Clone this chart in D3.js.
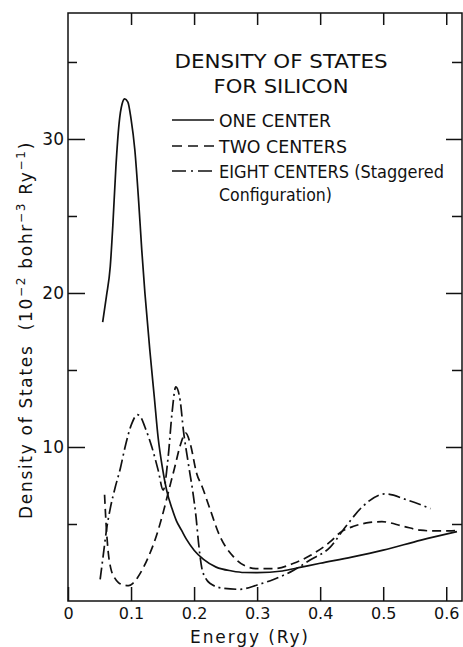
<!DOCTYPE html>
<html><head><meta charset="utf-8">
<script src="https://cdn.jsdelivr.net/npm/d3@7/dist/d3.min.js"></script>
<style>
html,body{margin:0;padding:0;background:#fff;}
svg{display:block;}
text{font-family:"DejaVu Sans",sans-serif;fill:#111;}
</style></head>
<body>
<script>
// ---- data (Energy in Ry, DOS in 10^-2 bohr^-3 Ry^-1) ----
const oneCenter = [[0.055,18.1],[0.061,19.8],[0.067,21.7],[0.071,24.3],[0.076,28.2],[0.081,31.0],[0.086,32.3],[0.090,32.6],[0.095,32.4],[0.100,31.3],[0.106,29.3],[0.112,26.0],[0.117,22.8],[0.122,20.0],[0.130,16.2],[0.137,13.2],[0.143,10.6],[0.150,8.6],[0.157,7.1],[0.165,6.0],[0.172,5.2],[0.180,4.6],[0.188,4.0],[0.200,3.3],[0.215,2.7],[0.235,2.2],[0.260,1.95],[0.280,1.85],[0.300,1.84],[0.340,1.95],[0.370,2.2],[0.400,2.45],[0.450,2.85],[0.500,3.3],[0.560,3.95],[0.617,4.5]];
const twoCenters = [[0.058,6.9],[0.061,4.6],[0.064,3.1],[0.068,2.1],[0.074,1.5],[0.080,1.2],[0.088,1.05],[0.096,1.0],[0.103,1.15],[0.110,1.5],[0.120,2.2],[0.130,3.1],[0.140,4.2],[0.150,5.6],[0.160,7.2],[0.170,8.8],[0.178,10.1],[0.187,10.9],[0.194,10.2],[0.204,8.3],[0.213,7.4],[0.225,6.0],[0.241,4.2],[0.262,2.9],[0.280,2.3],[0.300,2.1],[0.326,2.1],[0.358,2.45],[0.384,2.95],[0.416,3.85],[0.432,4.45],[0.453,4.85],[0.479,5.1],[0.498,5.15],[0.532,4.85],[0.559,4.6],[0.580,4.55],[0.604,4.55],[0.622,4.6]];
const eightCenters = [[0.051,1.4],[0.056,3.0],[0.061,4.6],[0.067,6.0],[0.075,7.4],[0.083,8.6],[0.090,9.9],[0.101,11.5],[0.110,12.1],[0.116,11.9],[0.122,11.3],[0.133,10.0],[0.143,8.5],[0.151,7.2],[0.159,9.4],[0.165,12.2],[0.171,13.9],[0.178,13.0],[0.183,11.1],[0.191,8.9],[0.199,6.8],[0.203,5.5],[0.207,3.8],[0.212,2.2],[0.218,1.5],[0.225,1.15],[0.247,0.82],[0.273,0.76],[0.300,1.04],[0.326,1.4],[0.358,2.0],[0.384,2.66],[0.416,3.5],[0.440,4.8],[0.469,6.2],[0.503,6.95],[0.538,6.56],[0.575,6.0]];
const xTicks = [0,0.1,0.2,0.3,0.4,0.5,0.6];
const xTickLabels = ["0","0.1","0.2","0.3","0.4","0.5","0.6"];
const yMajor = [10,20,30];
const yMinor = [5,15,25,35];
const titleLines = ["DENSITY OF STATES","FOR SILICON"];
const seriesNames = ["ONE CENTER","TWO CENTERS","EIGHT CENTERS (Staggered"];
const seriesNote = "Configuration)";

// ---- layout ----
const W = 463, H = 647;
const L = 68, R = 462, T = 13, B = 601;
const x = d3.scaleLinear().domain([0, 0.625]).range([L, R]);
const y = d3.scaleLinear().domain([0, 38.18]).range([B, T]);

const svg = d3.select("body").append("svg").attr("width", W).attr("height", H);

// frame
svg.append("rect").attr("x", L).attr("y", T).attr("width", R - L).attr("height", B - T)
  .attr("fill", "none").attr("stroke", "#111").attr("stroke-width", 1.5);

function styleAxis(g){
  g.select(".domain").remove();
  g.selectAll(".tick line").attr("stroke", "#111").attr("stroke-width", 1.5);
  g.selectAll(".tick text").style("font-family", '"DejaVu Sans",sans-serif').attr("fill", "#111");
}

// bottom
svg.append("g").attr("transform", `translate(0,${B})`)
  .call(d3.axisBottom(x).tickValues(xTicks).tickSize(-14).tickPadding(7)
        .tickFormat((d,i) => xTickLabels[i]))
  .call(styleAxis).selectAll("text").style("font-size", "16px");
// top
svg.append("g").attr("transform", `translate(0,${T})`)
  .call(d3.axisTop(x).tickValues(xTicks.slice(1)).tickSize(-12).tickFormat(""))
  .call(styleAxis);
// left
svg.append("g").attr("transform", `translate(${L},0)`)
  .call(d3.axisLeft(y).tickValues(yMajor).tickSize(-17).tickPadding(4).tickFormat(d3.format("d")))
  .call(styleAxis).selectAll("text").style("font-size", "17px");
svg.append("g").attr("transform", `translate(${L},0)`)
  .call(d3.axisLeft(y).tickValues(yMinor).tickSize(-9).tickFormat(""))
  .call(styleAxis);
// right
svg.append("g").attr("transform", `translate(${R},0)`)
  .call(d3.axisRight(y).tickValues(yMajor).tickSize(-16).tickFormat(""))
  .call(styleAxis);
svg.append("g").attr("transform", `translate(${R},0)`)
  .call(d3.axisRight(y).tickValues(yMinor).tickSize(-10).tickFormat(""))
  .call(styleAxis);

// axis titles
svg.append("text").attr("x", 249).attr("y", 643).attr("text-anchor", "middle")
  .style("font-size", "17px").attr("textLength", 118).attr("lengthAdjust", "spacing")
  .text("Energy (Ry)");

const yl = svg.append("text").attr("transform", "translate(32,330) rotate(-90)")
  .attr("text-anchor", "middle").style("font-size", "17px").style("letter-spacing", "1.7px")
  .style("white-space", "pre");
yl.append("tspan").text("Density of States  (10");
yl.append("tspan").attr("dy", -7).style("font-size", "12px").text("−2");
yl.append("tspan").attr("dy", 7).text(" bohr");
yl.append("tspan").attr("dy", -7).style("font-size", "12px").text("−3");
yl.append("tspan").attr("dy", 7).text(" Ry");
yl.append("tspan").attr("dy", -7).style("font-size", "12px").text("−1");
yl.append("tspan").attr("dy", 7).text(")");

// curves
const line = d3.line().x(d => x(d[0])).y(d => y(d[1])).curve(d3.curveMonotoneX);
const styles = [null, "9,5", "12,4,2,4"];
[oneCenter, twoCenters, eightCenters].forEach((s, i) => {
  svg.append("path").datum(s).attr("d", line).attr("fill", "none")
    .attr("stroke", "#111").attr("stroke-width", 1.7)
    .attr("stroke-dasharray", styles[i]);
});

// legend
svg.append("text").attr("x", 281).attr("y", 68).attr("text-anchor", "middle")
  .style("font-size", "20px").attr("textLength", 213).attr("lengthAdjust", "spacingAndGlyphs")
  .text(titleLines[0]);
svg.append("text").attr("x", 281).attr("y", 93).attr("text-anchor", "middle")
  .style("font-size", "20px").attr("textLength", 135).attr("lengthAdjust", "spacingAndGlyphs")
  .text(titleLines[1]);
const legY = [120, 146, 171];
const legW = [112, 128, 225];
const legDash = [null, "10,6", "14,5,2,5"];
seriesNames.forEach((n, i) => {
  svg.append("line").attr("x1", 172).attr("x2", 214).attr("y1", legY[i]).attr("y2", legY[i])
    .attr("stroke", "#111").attr("stroke-width", 1.7).attr("stroke-dasharray", legDash[i]);
  svg.append("text").attr("x", 219).attr("y", legY[i] + 7).style("font-size", "17px")
    .attr("textLength", legW[i]).attr("lengthAdjust", "spacingAndGlyphs").text(n);
});
svg.append("text").attr("x", 219).attr("y", 201).style("font-size", "17px")
  .attr("textLength", 113).attr("lengthAdjust", "spacingAndGlyphs").text(seriesNote);
</script>
</body></html>
